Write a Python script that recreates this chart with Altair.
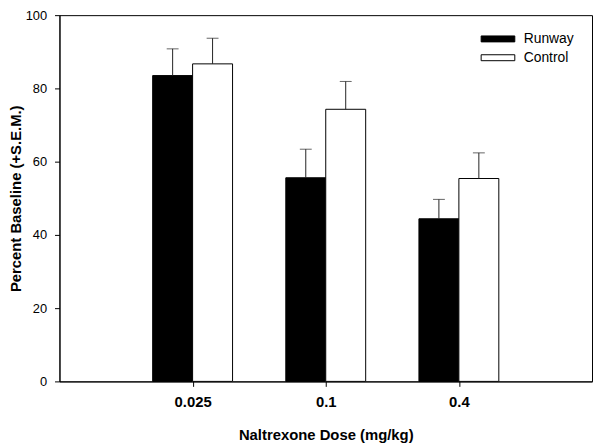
import altair as alt
import pandas as pd

doses = ["0.025", "0.1", "0.4"]
runway = [83.5, 55.6, 44.4]
runway_sem = [7.3, 7.8, 5.3]
control = [86.7, 74.3, 55.4]
control_sem = [7.0, 7.6, 7.0]
groups = ["Runway", "Control"]

rows = []
for i, d in enumerate(doses):
    for g, vals, sems in [("Runway", runway, runway_sem), ("Control", control, control_sem)]:
        rows.append({"dose": d, "pos": i + 1, "group": g, "value": vals[i], "sem": sems[i]})
df = pd.DataFrame(rows)

BW = 0.3
base = alt.Chart(df).transform_calculate(
    side="datum.group === 'Runway' ? -1 : 0",
).transform_calculate(
    x0=f"datum.pos + datum.side * {BW}",
    x1=f"datum.pos + datum.side * {BW} + {BW}",
    xc=f"datum.pos + datum.side * {BW} + {BW / 2}",
    top="datum.value + datum.sem",
    zero="0",
)

label_expr = "datum.value == 1 ? '0.025' : datum.value == 2 ? '0.1' : datum.value == 3 ? '0.4' : ''"

xscale = alt.Scale(domain=[0, 4], nice=False, zero=False)
yscale = alt.Scale(domain=[0, 100], nice=False)

bars = base.mark_rect(stroke="black", strokeWidth=1).encode(
    x=alt.X("x0:Q", scale=xscale,
            axis=alt.Axis(values=[1, 2, 3], labelExpr=label_expr, title="Naltrexone Dose (mg/kg)",
                          labelFontWeight="bold", labelFontSize=15, labelPadding=8,
                          titleFontSize=15, titleFontWeight="bold", titleY=59,
                          titleBaseline="alphabetic", grid=False)),
    x2="x1:Q",
    y=alt.Y("value:Q", scale=yscale,
            axis=alt.Axis(values=[0, 20, 40, 60, 80, 100], title="Percent Baseline (+S.E.M.)",
                          labelFontSize=13, labelPadding=8, titleFontSize=15, titleFontWeight="bold",
                          titleX=-39, titleY=185, titleBaseline="alphabetic", titleAngle=-90,
                          grid=False)),
    y2="zero:Q",
    fill=alt.Fill("group:N", scale=alt.Scale(domain=groups, range=["black", "white"]),
                  legend=alt.Legend(title=None, orient="none", legendX=434, legendY=15,
                                    symbolType="M-2,-0.353H2V0.353H-2Z", symbolSize=289,
                                    symbolStrokeColor="black", symbolStrokeWidth=1,
                                    labelFontSize=14, labelOffset=17, rowPadding=3, padding=0,
                                    labelColor="black")),
)

err = base.mark_rule(color="#222", strokeWidth=1).encode(
    x=alt.X("xc:Q", scale=xscale),
    y=alt.Y("value:Q", scale=yscale),
    y2="top:Q",
)
caps = base.mark_tick(color="#222", thickness=1, size=12, orient="horizontal").encode(
    x=alt.X("xc:Q", scale=xscale),
    y=alt.Y("top:Q", scale=yscale),
)

chart = alt.layer(bars, err, caps).properties(
    width=538, height=370,
    autosize=alt.AutoSizeParams(type="none"),
    padding={"left": 52, "top": 5, "right": 1, "bottom": 60},
).configure_view(stroke="black", strokeWidth=1).configure_axis(
    domainColor="black", tickColor="black", tickSize=5, labelColor="black", titleColor="black",
    labelFont="Liberation Sans", titleFont="Liberation Sans",
).configure_legend(labelFont="Liberation Sans")

chart.save("out.html", embed_options={"renderer": "svg", "actions": False})
